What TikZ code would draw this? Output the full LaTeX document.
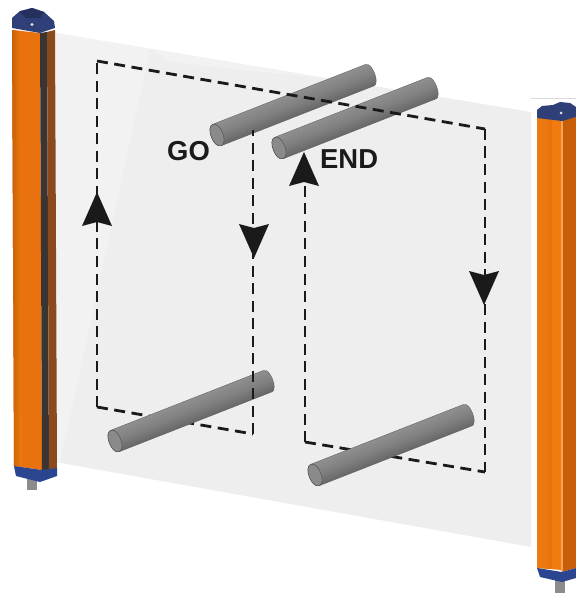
\documentclass[tikz,border=0pt]{standalone}
\usepackage{fontspec}
\setmainfont{Liberation Sans}
\usetikzlibrary{calc}
\definecolor{panelgray}{HTML}{EEEEEE}
\definecolor{panellight}{HTML}{F2F2F2}
\definecolor{capblue}{HTML}{2F3F78}
\definecolor{capdark}{HTML}{26305C}
\definecolor{botblue}{HTML}{2C4590}
\definecolor{orangeA}{HTML}{E9720F}
\definecolor{orangeB}{HTML}{F07C10}
\definecolor{orangeC}{HTML}{C85F08}
\definecolor{stripdark}{HTML}{3A3432}
\definecolor{stripbrown}{HTML}{8A4A1E}
\definecolor{inkk}{HTML}{1A1A1A}
\tikzset{
  dashline/.style={draw=inkk,line width=2.8bp,dash pattern=on 11bp off 6.5bp,line join=miter},
  headfill/.style={fill=inkk,draw=none},
  labeltext/.style={font=\bfseries\fontsize{27.5}{27.5}\selectfont,text=inkk,inner sep=0pt},
  rodbody/.style={top color=black!44,bottom color=black!60,middle color=black!50,draw=black!62,line width=0.4pt},
  rodface/.style={fill=black!46,draw=black!68,line width=0.5pt},
}
\newcommand{\rodshape}[3]{%
  \begin{scope}[transform canvas={shift={(#1,#2)},rotate=#3}]
    \shade[rodbody] (0,-11.5) -- (164,-11.5) .. controls (171,-11.5) and (171,11.5) .. (164,11.5)
       -- (0,11.5) .. controls (-8,11.5) and (-8,-11.5) .. (0,-11.5);
    \path[rodface] (0,-11.5) .. controls (-8,-11.5) and (-8,11.5) .. (0,11.5)
       .. controls (8,11.5) and (8,-11.5) .. (0,-11.5);
  \end{scope}}
\newcommand{\headshape}[3]{% tip x, tip y, direction (+1 down, -1 up)
  \path[headfill] (#1,#2) -- ($(#1,#2)+(-15,-34*#3)$) -- ($(#1,#2)+(0,-30*#3)$) -- ($(#1,#2)+(15,-34*#3)$) -- cycle;}
\begin{document}
\begin{tikzpicture}[x=1bp,y=-1bp]
\useasboundingbox (0,0) rectangle (576,593);
% light panel
\coordinate (pTL) at (55,33);
\coordinate (pTR) at (531,112);
\coordinate (pBR) at (531,547);
\coordinate (pBL) at (55,462);
\fill[panelgray] (pTL) -- (pTR) -- (pBR) -- (pBL) -- cycle;
\fill[panellight] (pTL) -- (150,49) -- (60,463) -- (pBL) -- cycle;
\fill[panellight] (150,49) -- (330,79) -- (170,62) -- cycle;
\draw[black!14,line width=1pt] (531,98) -- (576,98);
% route corners
\coordinate (a) at (97,407);
\coordinate (b) at (97,61);
\coordinate (c) at (485,129);
\coordinate (d) at (485,472);
\coordinate (e) at (305,442);
\coordinate (f) at (305,186);
\coordinate (g) at (253,434);
\coordinate (h) at (253,130);
% lower runs pass behind the rods
\draw[dashline] (a) -- (g);
\draw[dashline] (e) -- (d);
\rodshape{115}{441}{21.4}
\rodshape{315}{475}{21.4}
% upper rods sit behind the top run
\rodshape{217}{135}{21.4}
\rodshape{279}{148}{21.4}
\draw[dashline] (b) -- (c);
\draw[dashline] (a) -- (b);
\draw[dashline] (g) -- (h);
\draw[dashline] (c) -- (d);
\draw[dashline] (e) -- (f);
% arrow heads
\headshape{97}{192}{-1}
\headshape{254}{258}{1}
\headshape{304}{152}{-1}
\headshape{484}{305}{1}
% labels
\node[labeltext,anchor=base west] (go) at (167,161) {GO};
\node[labeltext,anchor=base west] (endl) at (320,169) {END};
% left sensor
\fill[black!45] (27,478) rectangle (37,490);
\fill[orangeA] (12,30) -- (40,33) -- (42,470) -- (14,466) -- cycle;
\shade[left color=orangeC,right color=orangeB] (12,30) -- (20,31) -- (22,467) -- (14,466) -- cycle;
\fill[stripdark] (40,33) -- (47,32) -- (49,470) -- (42,470) -- cycle;
\fill[stripbrown] (47,32) -- (55,30) -- (57,468) -- (49,470) -- cycle;
\fill[capblue] (12,18) -- (20,11) -- (32,8) -- (44,12) -- (54,21) -- (55,28) -- (40,33) -- (12,28) -- cycle;
\fill[capdark] (20,12) -- (32,8) -- (44,12) -- (40,18) -- (26,18) -- cycle;
\fill[black!10] (32,24.5) circle (1.6);
\fill[botblue] (14,466) -- (42,470) -- (57,468) -- (57,476) -- (40,482) -- (16,476) -- cycle;
% right sensor
\fill[black!45] (555,578) rectangle (565,593);
\fill[orangeB] (537,118) -- (562,120) -- (562,570) -- (537,568) -- cycle;
\shade[left color=orangeB,right color=orangeA] (537,118) -- (552,119) -- (552,569) -- (537,568) -- cycle;
\fill[orangeC] (562,120) -- (576,117) -- (576,568) -- (562,572) -- cycle;
\fill[orangeB!70!white] (561,120) rectangle (563,571);
\fill[capblue] (537,110) -- (542,106) -- (553,105) -- (560,102) -- (570,103) -- (576,107) -- (576,117) -- (562,121) -- (537,118) -- cycle;
\fill[black!10] (561,113) circle (1.5);
\fill[botblue] (537,568) -- (562,572) -- (576,568) -- (576,578) -- (562,582) -- (540,577) -- cycle;
\end{tikzpicture}
\end{document}
